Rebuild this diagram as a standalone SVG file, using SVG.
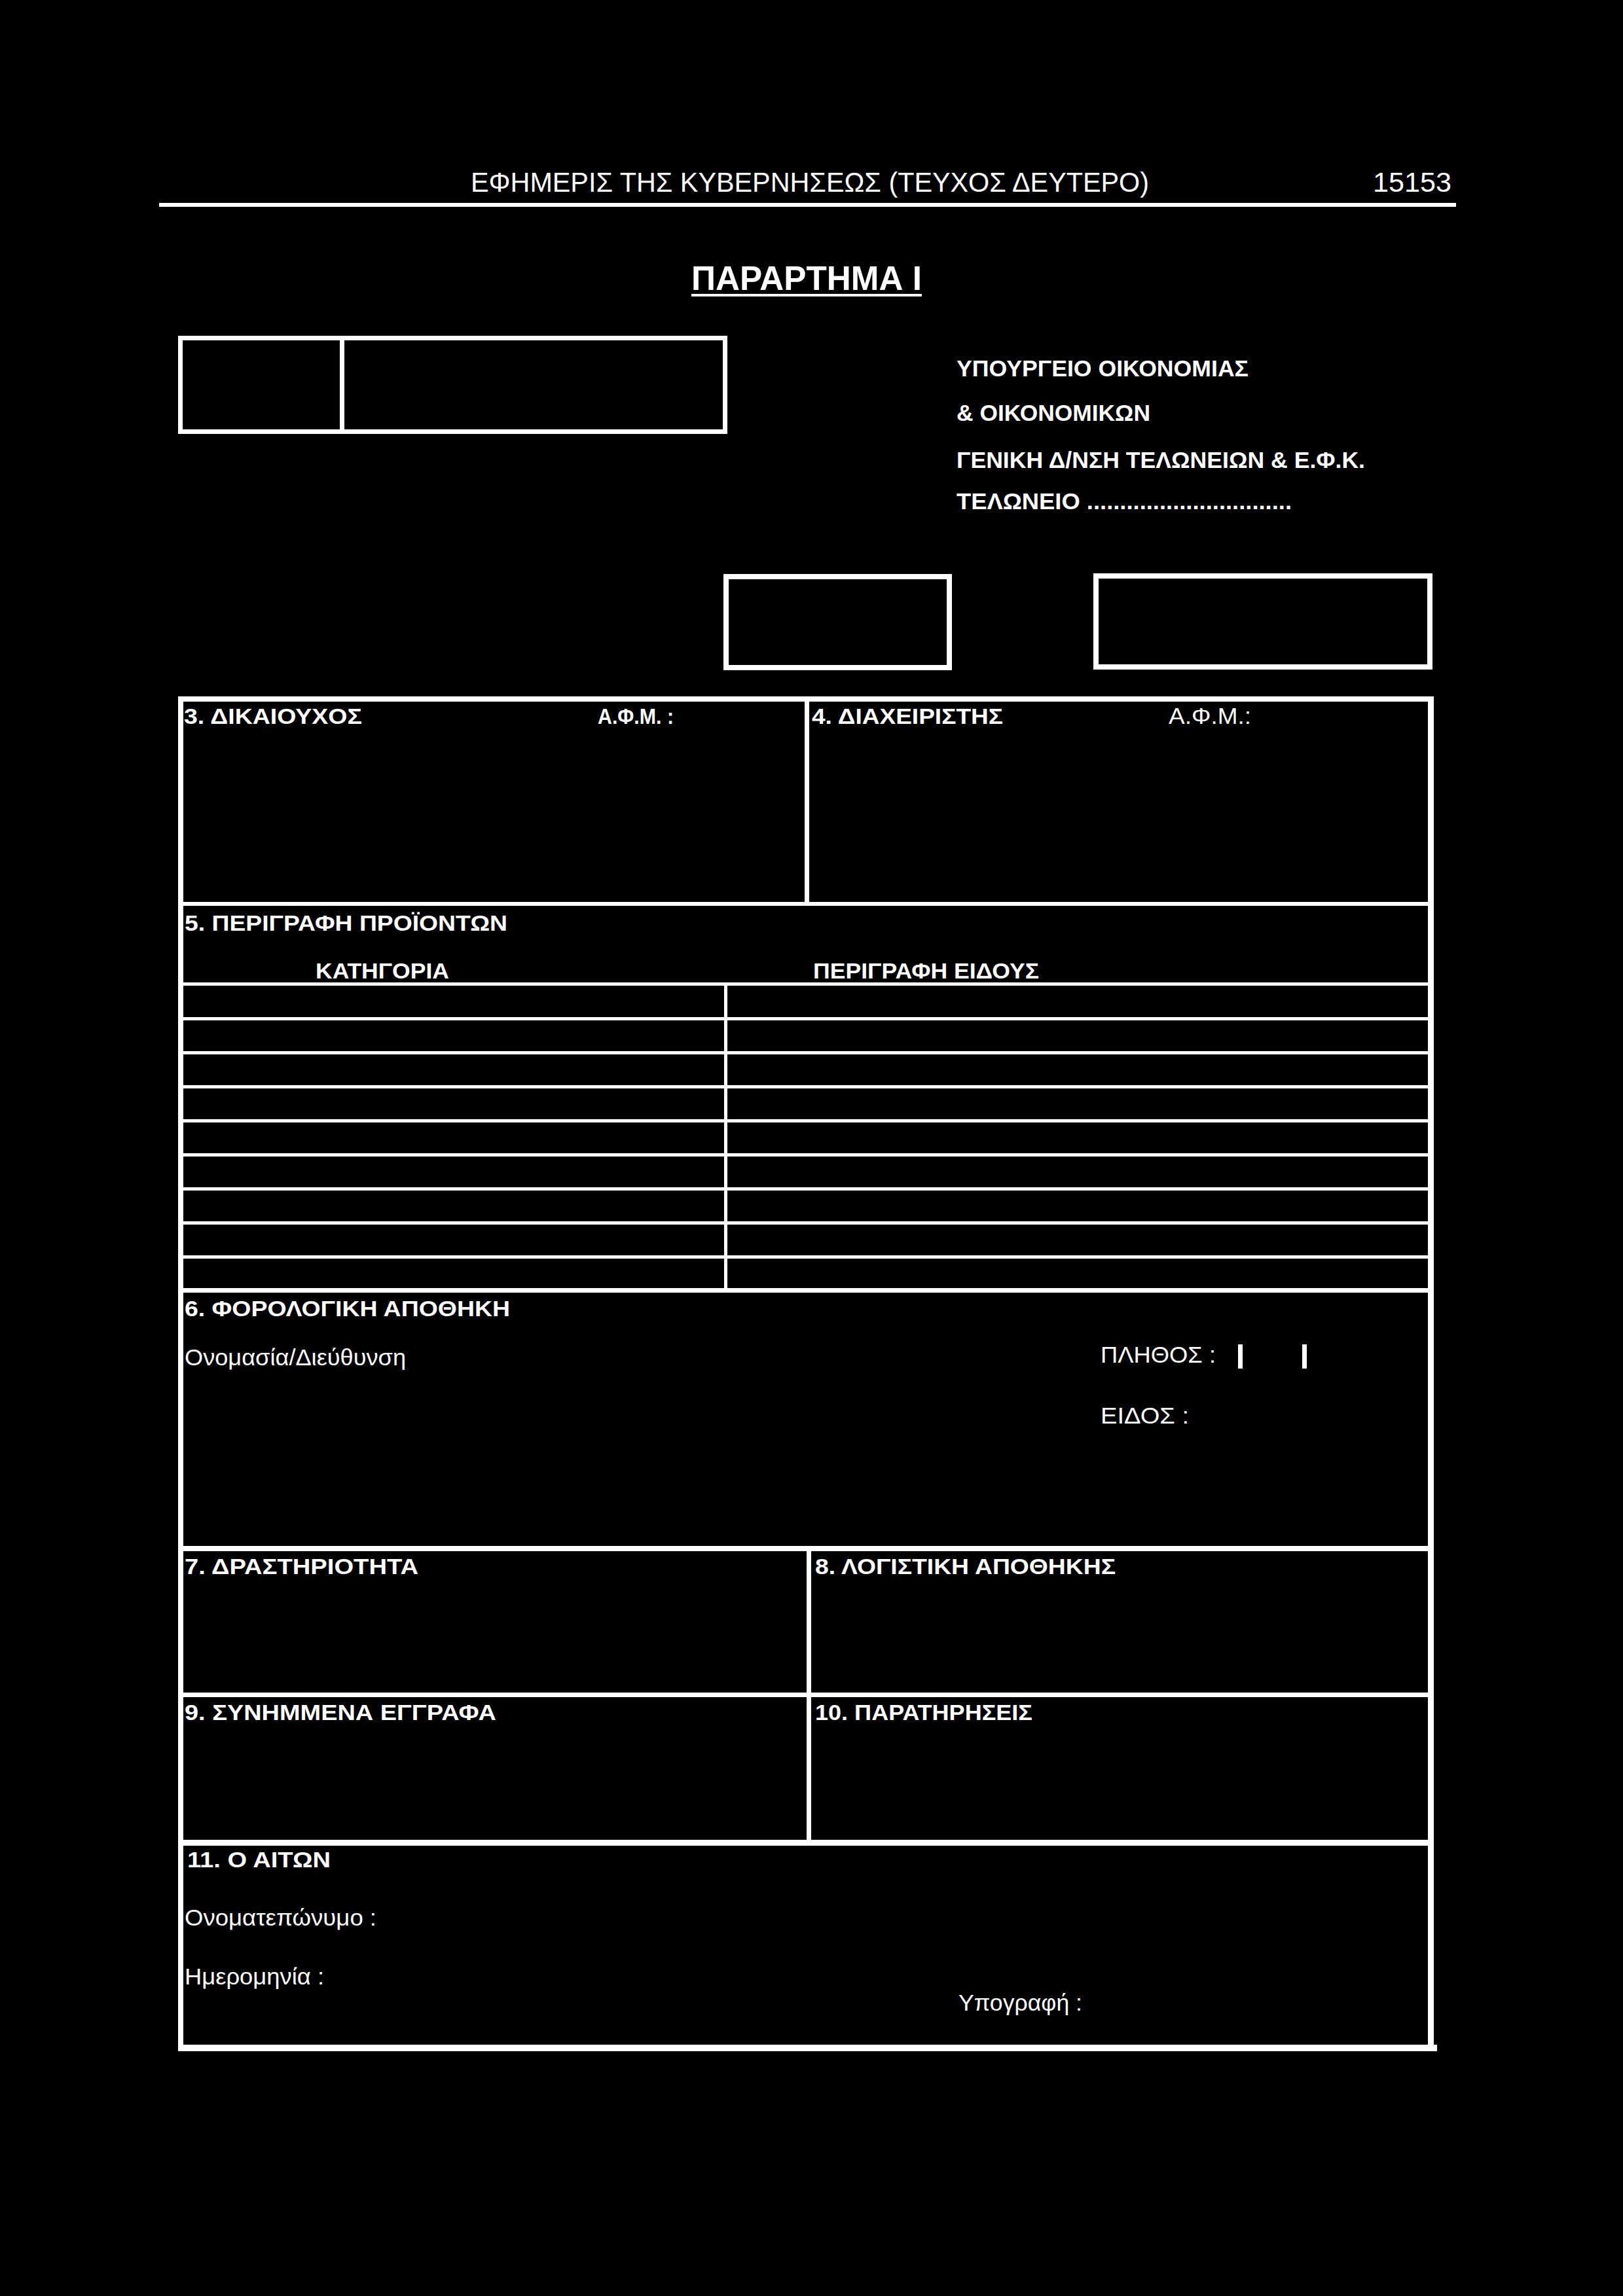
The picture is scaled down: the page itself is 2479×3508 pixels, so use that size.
<svg xmlns="http://www.w3.org/2000/svg" width="2479" height="3508" viewBox="0 0 2479 3508">
<style>
text{font-family:"Liberation Sans","Noto Sans",Arial,sans-serif;fill:#fff}
.h{font-weight:bold;font-size:34px}
.r{font-size:35px}
.m{font-weight:bold;font-size:35px}
.ln{fill:#fff}
.box{fill:none;stroke:#fff}
</style>
<rect x="0" y="0" width="2479" height="3508" fill="#000"/>
<g id="page-header">
<text x="719" y="293" font-size="42" textLength="1036" lengthAdjust="spacingAndGlyphs">ΕΦΗΜΕΡΙΣ ΤΗΣ ΚΥΒΕΡΝΗΣΕΩΣ (ΤΕΥΧΟΣ ΔΕΥΤΕΡΟ)</text>
<text x="2097" y="293" font-size="42" textLength="120" lengthAdjust="spacingAndGlyphs">15153</text>
<rect class="ln" x="243" y="310" width="1981" height="6"/>
</g>
<g id="title">
<text x="1056" y="443" font-size="52" font-weight="bold" textLength="352" lengthAdjust="spacingAndGlyphs">ΠΑΡΑΡΤΗΜΑ Ι</text>
<rect class="ln" x="1056" y="449" width="352" height="4"/>
</g>
<g id="box-top-left">
<rect class="box" x="275.5" y="516.5" width="832" height="143" stroke-width="7"/>
<rect class="ln" x="519" y="516" width="7" height="143"/>
</g>
<g id="authority">
<text class="m" x="1461" y="575" textLength="446" lengthAdjust="spacingAndGlyphs">ΥΠΟΥΡΓΕΙΟ ΟΙΚΟΝΟΜΙΑΣ</text>
<text class="m" x="1461" y="643" textLength="296" lengthAdjust="spacingAndGlyphs">&amp; ΟΙΚΟΝΟΜΙΚΩΝ</text>
<text class="m" x="1461" y="715" textLength="624" lengthAdjust="spacingAndGlyphs">ΓΕΝΙΚΗ Δ/ΝΣΗ ΤΕΛΩΝΕΙΩΝ &amp; Ε.Φ.Κ.</text>
<text class="m" x="1461" y="778" textLength="512" lengthAdjust="spacingAndGlyphs">ΤΕΛΩΝΕΙΟ ...............................</text>
</g>
<g id="box-a">
<rect class="box" x="1109" y="881" width="341" height="139" stroke-width="8"/>
</g>
<g id="box-b">
<rect class="box" x="1674" y="880" width="510" height="139" stroke-width="8"/>
</g>
<g id="frame">
<rect class="ln" x="272" y="1064" width="8" height="2070"/>
<rect class="ln" x="2181" y="1064" width="9" height="2070"/>
<rect class="ln" x="272" y="1064" width="1918" height="8"/>
<rect class="ln" x="272" y="3124" width="1923" height="10"/>
</g>
<g id="sec-3">
<text class="h" x="281" y="1106" textLength="272" lengthAdjust="spacingAndGlyphs">3. ΔΙΚΑΙΟΥΧΟΣ</text>
<text class="h" x="913" y="1106" textLength="116" lengthAdjust="spacingAndGlyphs">Α.Φ.Μ. :</text>
<rect class="ln" x="1229" y="1064" width="7" height="317"/>
</g>
<g id="sec-4">
<text class="h" x="1240" y="1106" textLength="292" lengthAdjust="spacingAndGlyphs">4. ΔΙΑΧΕΙΡΙΣΤΗΣ</text>
<text class="r" x="1785" y="1106" textLength="126" lengthAdjust="spacingAndGlyphs">Α.Φ.Μ.:</text>
<rect class="ln" x="272" y="1378" width="1912" height="6"/>
</g>
<g id="sec-5">
<text class="h" x="282" y="1422" textLength="493" lengthAdjust="spacingAndGlyphs">5. ΠΕΡΙΓΡΑΦΗ ΠΡΟΪΟΝΤΩΝ</text>
<text class="h" x="482" y="1495" textLength="204" lengthAdjust="spacingAndGlyphs">ΚΑΤΗΓΟΡΙΑ</text>
<text class="h" x="1242" y="1495" textLength="345" lengthAdjust="spacingAndGlyphs">ΠΕΡΙΓΡΑΦΗ ΕΙΔΟΥΣ</text>
<rect class="ln" x="272" y="1501" width="1912" height="5"/>
<rect class="ln" x="272" y="1554" width="1912" height="5"/>
<rect class="ln" x="272" y="1606" width="1912" height="5"/>
<rect class="ln" x="272" y="1658" width="1912" height="5"/>
<rect class="ln" x="272" y="1710" width="1912" height="5"/>
<rect class="ln" x="272" y="1762" width="1912" height="5"/>
<rect class="ln" x="272" y="1814" width="1912" height="5"/>
<rect class="ln" x="272" y="1866" width="1912" height="5"/>
<rect class="ln" x="272" y="1918" width="1912" height="5"/>
<rect class="ln" x="1106" y="1502" width="5" height="468"/>
</g>
<g id="sec-6">
<rect class="ln" x="272" y="1968" width="1918" height="7"/>
<text class="h" x="282" y="2011" textLength="497" lengthAdjust="spacingAndGlyphs">6. ΦΟΡΟΛΟΓΙΚΗ ΑΠΟΘΗΚΗ</text>
<text class="r" x="282" y="2086" textLength="338" lengthAdjust="spacingAndGlyphs">Ονομασία/Διεύθυνση</text>
<text class="r" x="1681" y="2082" textLength="176" lengthAdjust="spacingAndGlyphs">ΠΛΗΘΟΣ :</text>
<rect class="ln" x="1891" y="2054" width="7" height="37"/>
<rect class="ln" x="1989" y="2054" width="7" height="37"/>
<text class="r" x="1681" y="2175" textLength="135" lengthAdjust="spacingAndGlyphs">ΕΙΔΟΣ :</text>
</g>
<g id="sec-7">
<rect class="ln" x="272" y="2362" width="1918" height="8"/>
<text class="h" x="282" y="2405" textLength="357" lengthAdjust="spacingAndGlyphs">7. ΔΡΑΣΤΗΡΙΟΤΗΤΑ</text>
<rect class="ln" x="1232" y="2362" width="7" height="453"/>
</g>
<g id="sec-8">
<text class="h" x="1245" y="2405" textLength="459" lengthAdjust="spacingAndGlyphs">8. ΛΟΓΙΣΤΙΚΗ ΑΠΟΘΗΚΗΣ</text>
</g>
<g id="sec-9">
<rect class="ln" x="272" y="2586" width="1918" height="7"/>
<text class="h" x="282" y="2628" textLength="476" lengthAdjust="spacingAndGlyphs">9. ΣΥΝΗΜΜΕΝΑ ΕΓΓΡΑΦΑ</text>
</g>
<g id="sec-10">
<text class="h" x="1245" y="2628" textLength="332" lengthAdjust="spacingAndGlyphs">10. ΠΑΡΑΤΗΡΗΣΕΙΣ</text>
</g>
<g id="sec-11">
<rect class="ln" x="272" y="2811" width="1918" height="9"/>
<text class="h" x="286" y="2853" textLength="219" lengthAdjust="spacingAndGlyphs">11. Ο ΑΙΤΩΝ</text>
<text class="r" x="282" y="2942" textLength="293" lengthAdjust="spacingAndGlyphs">Ονοματεπώνυμο :</text>
<text class="r" x="282" y="3032" textLength="213" lengthAdjust="spacingAndGlyphs">Ημερομηνία :</text>
<text class="r" x="1464" y="3072" textLength="189" lengthAdjust="spacingAndGlyphs">Υπογραφή :</text>
</g>
<g id="connectors"></g>
</svg>
